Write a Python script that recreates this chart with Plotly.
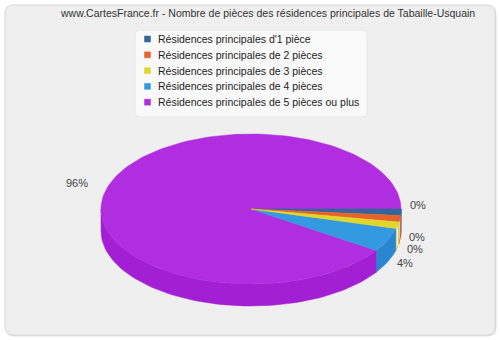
import math
import plotly.graph_objects as go

# ---- data ----
categories = [
    "Résidences principales d'1 pièce",
    "Résidences principales de 2 pièces",
    "Résidences principales de 3 pièces",
    "Résidences principales de 4 pièces",
    "Résidences principales de 5 pièces ou plus",
]
values = [0, 0, 0, 4, 96]  # percent shares
colors = ["#336699", "#e8632b", "#dfd72a", "#3399e0", "#b02ee0"]
side_colors = ["#2a5580", "#c8521f", "#c4bd20", "#2a87cf", "#a31fd3"]
title = "www.CartesFrance.fr - Nombre de pièces des résidences principales de Tabaille-Usquain"

# ---- geometry / style ----
CX, CY, RX, RY, DEPTH = 251, 209, 150, 75, 22
PAD = 1.5  # visual minimum share given to every slice (as in the reference renderer)
FONT = "Liberation Sans, Arial, sans-serif"

total = sum(values)
weights = [v + PAD for v in values]
wsum = sum(weights)
angles = []
a = 0.0
for w in weights:
    span = 360.0 * w / wsum
    angles.append((a, a + span))
    a += span


def pt(theta, dy=0.0):
    t = math.radians(theta)
    return CX + RX * math.cos(t), CY + RY * math.sin(t) + dy


def arc(a0, a1, dy=0.0, n=None):
    if n is None:
        n = max(2, int(abs(a1 - a0) / 2) + 2)
    xs, ys = [], []
    for i in range(n):
        th = a0 + (a1 - a0) * i / (n - 1)
        x, y = pt(th, dy)
        xs.append(x)
        ys.append(y)
    return xs, ys


def rounded_rect(x0, y0, x1, y1, r):
    return (f"M {x0+r},{y0} L {x1-r},{y0} Q {x1},{y0} {x1},{y0+r} "
            f"L {x1},{y1-r} Q {x1},{y1} {x1-r},{y1} L {x0+r},{y1} "
            f"Q {x0},{y1} {x0},{y1-r} L {x0},{y0+r} Q {x0},{y0} {x0+r},{y0} Z")


fig = go.Figure()

# panel background (with faint shadow)
fig.add_shape(type="path", path=rounded_rect(6, 6, 496, 336, 8), xref="x", yref="y",
              line=dict(color="#e4e4e4", width=1), fillcolor="#e4e4e4", layer="below")
fig.add_shape(type="path", path=rounded_rect(5, 5, 495, 335, 8), xref="x", yref="y",
              line=dict(color="#d6d6d6", width=1), fillcolor="#efefef", layer="below")

# outer walls (front half only)
for i, (a0, a1) in enumerate(angles):
    b0, b1 = max(a0, 0), min(a1, 180)
    if b1 <= b0:
        continue
    xt, yt = arc(b0, b1)
    xb, yb = arc(b1, b0, DEPTH)
    xs = xt + xb + [xt[0]]
    ys = yt + yb + [yt[0]]
    if values[i] == 0:
        fig.add_trace(go.Scatter(x=xs, y=ys, mode="lines",
                                 line=dict(color=colors[i], width=1),
                                 hoverinfo="skip", showlegend=False))
    else:
        fig.add_trace(go.Scatter(x=xs, y=ys, mode="lines", fill="toself",
                                 fillcolor=side_colors[i],
                                 line=dict(color=side_colors[i], width=0.5),
                                 hoverinfo="skip", showlegend=False))

# top faces
order = [4, 3, 0, 1, 2]
for i in order:
    a0, a1 = angles[i]
    xa, ya = arc(a0, a1)
    xs = [CX] + xa + [CX]
    ys = [CY] + ya + [CY]
    fig.add_trace(go.Scatter(x=xs, y=ys, mode="lines", fill="toself",
                             fillcolor=colors[i],
                             line=dict(color=colors[i], width=0.5),
                             hoverinfo="skip", showlegend=False))

# percentage labels (positions derived from slice mid-angles, then de-overlapped)
labels = []
for i, (a0, a1) in enumerate(angles):
    mid = (a0 + a1) / 2
    c, s = math.cos(math.radians(mid)), math.sin(math.radians(mid))
    k = 1.05 if c > 0 else 1.12
    x = CX + RX * k * c
    if s > 0.1:
        dy = DEPTH * 0.9
    elif c > 0:
        dy = -8
    else:
        dy = -2
    y = CY + RY * 1.12 * s + dy
    labels.append([x, y, c, f"{round(100 * values[i] / total)}%"])

GAP = 12
for side in (1, -1):
    grp = sorted([l for l in labels if (l[2] > 0) == (side > 0)], key=lambda l: l[1])
    for _ in range(10):
        for p, q in zip(grp, grp[1:]):
            if q[1] - p[1] < GAP:
                m = (p[1] + q[1]) / 2
                p[1], q[1] = m - GAP / 2, m + GAP / 2

for x, y, c, txt in labels:
    fig.add_annotation(x=x, y=y, text=txt, showarrow=False,
                       xanchor="left" if c > 0 else "right", yanchor="middle",
                       font=dict(family=FONT, size=11, color="#444444"))

# legend box
LX0, LY0, LX1, ROW = 135, 30, 367, 15.8
fig.add_shape(type="path", path=rounded_rect(LX0, LY0, LX1, LY0 + 8 + ROW * len(categories), 5),
              xref="x", yref="y", line=dict(color="#e8e8e8", width=1),
              fillcolor="rgba(255,255,255,0.6)")
for k, name in enumerate(categories):
    yy = LY0 + 9 + ROW * k
    fig.add_shape(type="rect", x0=144, y0=yy - 3.5, x1=151, y1=yy + 3.5, xref="x", yref="y",
                  line=dict(color="#ffffff", width=0.5), fillcolor=colors[k])
    fig.add_annotation(x=156, y=yy, text=name, showarrow=False, xanchor="left",
                       yanchor="middle", font=dict(family=FONT, size=10.5, color="#222222"))

# title
fig.add_annotation(x=267, y=13, text=title, showarrow=False, xanchor="center", yanchor="middle",
                   font=dict(family=FONT, size=10.5, color="#333333"))

fig.update_xaxes(range=[0, 500], visible=False, fixedrange=True)
fig.update_yaxes(range=[340, 0], visible=False, fixedrange=True)
fig.update_layout(width=500, height=340, autosize=False,
                  margin=dict(l=0, r=0, t=0, b=0),
                  paper_bgcolor="#ffffff", plot_bgcolor="rgba(0,0,0,0)",
                  showlegend=False)

fig.write_html("out.html", config={"displayModeBar": False})
